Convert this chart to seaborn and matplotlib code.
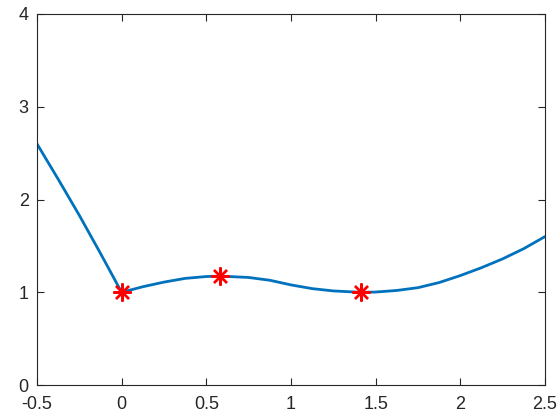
import matplotlib
matplotlib.use("Agg")
import matplotlib.pyplot as plt
import seaborn as sns
import pandas as pd

# curve
curve_x = [-0.5, -0.375, -0.25, -0.125, 0.0, 0.125, 0.25, 0.375, 0.5, 0.58,
           0.75, 0.875, 1.0, 1.125, 1.25, 1.414, 1.5, 1.625, 1.75, 1.875,
           2.0, 2.125, 2.25, 2.375, 2.5]
curve_y = [2.60, 2.22, 1.83, 1.42, 1.00, 1.06, 1.11, 1.15, 1.17, 1.175,
           1.16, 1.13, 1.08, 1.04, 1.015, 1.00, 1.003, 1.02, 1.05, 1.105,
           1.18, 1.265, 1.36, 1.47, 1.60]

# marked points (red asterisks)
pts_x = [0.0, 0.58, 1.414]
pts_y = [1.00, 1.175, 1.00]

x_ticks = [-0.5, 0, 0.5, 1, 1.5, 2, 2.5]
x_labels = ["-0.5", "0", "0.5", "1", "1.5", "2", "2.5"]
y_ticks = [0, 1, 2, 3, 4]

sns.set_theme(style="white")
plt.rcParams["font.family"] = ["Liberation Sans", "DejaVu Sans"]

df = pd.DataFrame({"x": curve_x, "y": curve_y})

fig = plt.figure(figsize=(5.6, 4.2), dpi=100)
ax = fig.add_axes([0.066, 0.083, 0.907, 0.884])

sns.lineplot(data=df, x="x", y="y", sort=False, estimator=None,
             color="#0072BD", linewidth=2, ax=ax)
ax.plot(pts_x, pts_y, linestyle="none", marker=(8, 2, 0), markersize=13,
        markeredgewidth=1.7, color="red")

ax.set_xlim(-0.5, 2.5)
ax.set_ylim(0, 4)
ax.set_xticks(x_ticks)
ax.set_xticklabels(x_labels)
ax.set_yticks(y_ticks)
ax.set_xlabel("")
ax.set_ylabel("")

for sp in ax.spines.values():
    sp.set_visible(True)
    sp.set_color("#262626")
    sp.set_linewidth(0.8)
ax.tick_params(direction="in", length=5, width=0.8, colors="#262626",
               labelsize=13, top=True, right=True, bottom=True, left=True,
               labeltop=False, labelright=False)
ax.tick_params(axis="x", pad=8)
ax.tick_params(axis="y", pad=6)

fig.savefig("out.png", dpi=100)
